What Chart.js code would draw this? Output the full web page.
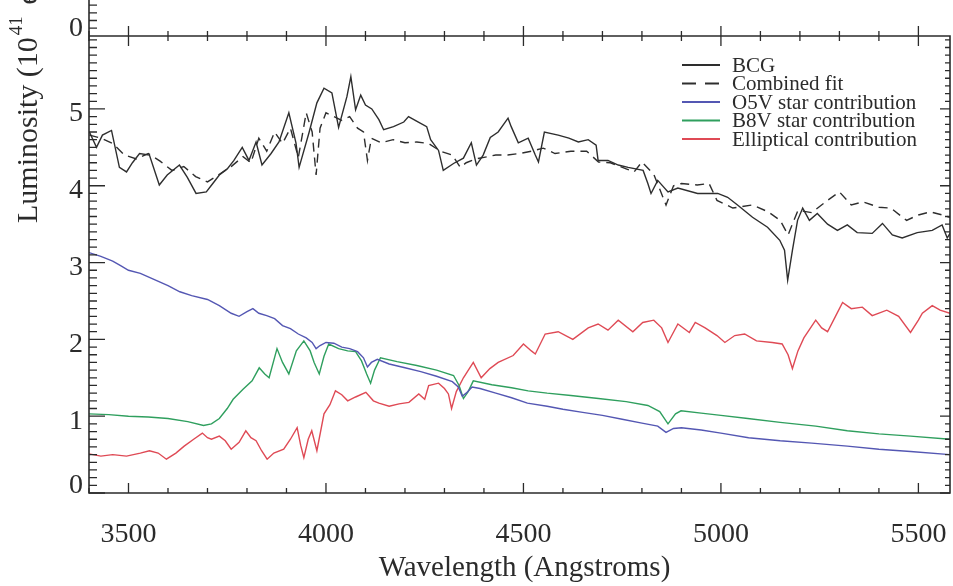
<!DOCTYPE html>
<html>
<head>
<meta charset="utf-8">
<script src="https://cdn.jsdelivr.net/npm/chart.js@4"></script>
<style>
  html, body { margin: 0; padding: 0; background: #fff; }
  #wrap { width: 953px; height: 586px; position: relative; }
</style>
</head>
<body>
<div id="wrap"><canvas id="spectrum"></canvas></div>
<script>
// values (wavelength in Angstroms, luminosity in 10^41 units)
const bcgWave = [3401,3419,3434,3457,3477,3495,3510,3528,3553,3578,3598,3629,3649,3671,3697,3712,3730,3750,3767,3788,3805,3823,3838,3861,3881,3906,3924,3932,3957,3977,3995,4015,4032,4053,4063,4075,4088,4100,4116,4134,4146,4171,4197,4209,4234,4255,4265,4285,4297,4323,4348,4368,4381,4398,4416,4436,4461,4469,4487,4512,4530,4538,4553,4588,4615,4639,4664,4684,4689,4714,4740,4765,4803,4815,4823,4840,4866,4891,4941,4992,5017,5042,5080,5118,5149,5161,5169,5181,5194,5207,5224,5244,5270,5295,5320,5345,5383,5409,5434,5459,5497,5535,5560,5573,5580];
const bcgLum  = [4.70,4.50,4.66,4.72,4.24,4.18,4.30,4.42,4.40,4.01,4.14,4.27,4.11,3.90,3.92,4.02,4.14,4.22,4.33,4.50,4.33,4.57,4.27,4.42,4.57,4.95,4.56,4.24,4.69,5.08,5.27,5.21,4.76,5.16,5.42,4.99,5.18,5.05,5.00,4.86,4.73,4.77,4.83,4.90,4.83,4.77,4.60,4.46,4.20,4.29,4.36,4.56,4.27,4.40,4.63,4.70,4.88,4.77,4.56,4.62,4.40,4.31,4.70,4.66,4.62,4.57,4.60,4.53,4.33,4.33,4.27,4.24,4.20,4.03,3.90,4.07,3.92,3.97,3.90,3.90,3.85,3.75,3.59,3.46,3.29,3.16,2.77,3.16,3.55,3.71,3.55,3.64,3.50,3.42,3.49,3.39,3.38,3.51,3.36,3.32,3.39,3.42,3.49,3.32,3.38];

const fitWave = [3401,3430,3460,3490,3520,3550,3580,3610,3640,3670,3700,3730,3760,3790,3810,3830,3850,3870,3890,3910,3930,3950,3965,3975,3985,4000,4020,4040,4060,4080,4095,4105,4115,4140,4170,4200,4230,4260,4290,4320,4340,4355,4380,4400,4430,4460,4490,4520,4550,4580,4620,4660,4690,4720,4760,4780,4800,4830,4861,4880,4900,4940,4970,4990,5030,5080,5120,5150,5170,5195,5230,5270,5300,5330,5360,5400,5430,5470,5500,5530,5560,5580];
const fitLum  = [4.66,4.62,4.55,4.40,4.35,4.42,4.32,4.20,4.25,4.12,4.05,4.15,4.25,4.38,4.30,4.62,4.45,4.70,4.55,4.75,4.37,4.95,4.70,4.14,4.75,4.95,4.90,4.85,4.90,4.75,4.70,4.33,4.62,4.56,4.60,4.56,4.57,4.55,4.45,4.40,4.24,4.30,4.35,4.37,4.40,4.40,4.42,4.45,4.49,4.42,4.45,4.45,4.31,4.30,4.22,4.18,4.31,4.15,3.75,4.00,4.03,4.01,4.03,3.81,3.71,3.75,3.66,3.55,3.36,3.68,3.65,3.81,3.92,3.75,3.79,3.72,3.71,3.55,3.62,3.66,3.62,3.59];

const o5vWave = [3400,3430,3460,3480,3500,3530,3560,3600,3630,3660,3700,3730,3760,3780,3800,3815,3830,3850,3870,3890,3910,3930,3950,3965,3975,3985,4000,4020,4040,4060,4080,4095,4105,4115,4130,4160,4200,4240,4280,4320,4335,4345,4355,4370,4390,4430,4470,4510,4560,4600,4650,4700,4750,4800,4840,4861,4880,4900,4950,5000,5070,5150,5230,5320,5400,5480,5580];
const o5vLum  = [3.13,3.08,3.02,2.96,2.90,2.86,2.79,2.70,2.62,2.57,2.52,2.44,2.34,2.30,2.36,2.40,2.34,2.31,2.27,2.18,2.14,2.07,2.02,1.96,1.88,1.92,1.96,1.95,1.90,1.88,1.84,1.76,1.64,1.70,1.74,1.68,1.63,1.58,1.52,1.45,1.38,1.26,1.30,1.38,1.36,1.30,1.24,1.17,1.13,1.09,1.05,1.01,0.96,0.91,0.87,0.79,0.84,0.85,0.82,0.78,0.72,0.68,0.65,0.61,0.57,0.54,0.50];

const b8vWave = [3400,3450,3500,3550,3600,3650,3690,3710,3730,3750,3765,3790,3813,3831,3845,3856,3876,3890,3906,3925,3944,3960,3970,3983,3995,4007,4032,4055,4075,4090,4103,4113,4123,4138,4180,4230,4280,4323,4337,4348,4360,4373,4420,4470,4512,4560,4620,4690,4760,4815,4845,4866,4885,4899,4950,5000,5068,5150,5240,5320,5400,5480,5580];
const b8vLum  = [1.03,1.02,1.00,0.99,0.97,0.93,0.88,0.90,0.97,1.10,1.22,1.35,1.46,1.63,1.55,1.50,1.88,1.70,1.55,1.85,1.98,1.85,1.70,1.55,1.78,1.94,1.88,1.85,1.84,1.72,1.55,1.43,1.60,1.76,1.71,1.66,1.60,1.53,1.40,1.23,1.32,1.46,1.41,1.37,1.33,1.30,1.27,1.23,1.19,1.14,1.06,0.90,1.03,1.07,1.04,1.01,0.97,0.92,0.87,0.81,0.77,0.74,0.70];

const ellWave = [3400,3430,3460,3495,3530,3553,3575,3596,3620,3641,3665,3687,3700,3710,3730,3745,3760,3780,3797,3810,3823,3837,3851,3868,3893,3910,3927,3936,3944,3955,3964,3977,3995,4010,4024,4040,4055,4075,4101,4120,4134,4160,4185,4210,4235,4250,4260,4285,4300,4310,4318,4330,4348,4373,4393,4415,4436,4474,4500,4520,4530,4555,4588,4625,4664,4689,4714,4740,4777,4802,4830,4850,4866,4891,4920,4935,4960,4990,5010,5035,5060,5090,5130,5155,5170,5181,5195,5210,5240,5255,5270,5290,5308,5330,5358,5383,5420,5450,5480,5500,5510,5535,5555,5580];
const ellLum  = [0.51,0.48,0.50,0.48,0.52,0.55,0.52,0.44,0.52,0.61,0.70,0.78,0.72,0.70,0.74,0.68,0.57,0.66,0.81,0.72,0.68,0.55,0.44,0.52,0.57,0.70,0.85,0.62,0.46,0.70,0.81,0.55,1.03,1.15,1.33,1.28,1.20,1.25,1.31,1.20,1.17,1.13,1.16,1.18,1.29,1.22,1.40,1.43,1.36,1.29,1.10,1.32,1.50,1.70,1.50,1.62,1.70,1.79,1.94,1.85,1.81,2.07,2.10,2.00,2.15,2.20,2.12,2.25,2.10,2.22,2.25,2.15,1.96,2.20,2.09,2.22,2.15,2.05,1.96,2.05,2.07,1.98,1.96,1.94,1.80,1.62,1.85,2.02,2.25,2.15,2.10,2.30,2.48,2.40,2.42,2.31,2.38,2.30,2.09,2.25,2.34,2.44,2.38,2.34];

const seriesNames = ['BCG', 'Combined fit', 'O5V star contribution', 'B8V star contribution', 'Elliptical contribution'];
const xTickLabels = [3500, 4000, 4500, 5000, 5500];
const yTickLabels = [0, 1, 2, 3, 4, 5];

const serif = '"Liberation Serif", "Times New Roman", serif';
const ink = '#2b2b2b';

window.addEventListener('load', () => {
  drawSpectrum();
});

function pts(wave, lum){
  return wave.map((w, i) => ({ x: w, y: lum[i] }));
}

// IDL-like frame: inward ticks on all four sides, labels, titles, legend
const framePlugin = {
  id: 'frame',
  afterDraw(chart){
    const ctx = chart.ctx;
    const a = chart.chartArea;
    const xs = chart.scales.x;
    const ys = chart.scales.y;
    ctx.save();
    ctx.strokeStyle = ink;
    ctx.fillStyle = ink;
    ctx.lineWidth = 1.6;
    ctx.beginPath();
    ctx.rect(a.left, a.top, a.right - a.left, a.bottom - a.top);
    // left axis of the panel above continues to the top edge
    ctx.moveTo(a.left, a.top);
    ctx.lineTo(a.left, 0);
    ctx.stroke();

    ctx.lineWidth = 1.3;
    ctx.beginPath();
    for (let w = 3400; w <= 5580; w += 100){
      const px = xs.getPixelForValue(w);
      const major = w % 500 === 0;
      const len = major ? 10 : 5;
      ctx.moveTo(px, a.bottom); ctx.lineTo(px, a.bottom - len);
      ctx.moveTo(px, a.top - len); ctx.lineTo(px, a.top + len);
    }
    for (let k = 0; k <= 59; k++){
      const py = ys.getPixelForValue(k / 10);
      const major = k % 10 === 0;
      ctx.moveTo(a.left, py); ctx.lineTo(a.left + (major ? 16 : 8), py);
      ctx.moveTo(a.right, py); ctx.lineTo(a.right - (major ? 10 : 5), py);
    }
    // minor ticks of the panel above
    for (let k = 60; k <= 80; k++){
      const py = ys.getPixelForValue(k / 10) - 4;
      if (py < 0) break;
      ctx.moveTo(a.left, py); ctx.lineTo(a.left + 8, py);
    }
    ctx.stroke();

    ctx.font = '28px ' + serif;
    ctx.textAlign = 'center';
    ctx.textBaseline = 'alphabetic';
    xTickLabels.forEach(v => ctx.fillText(String(v), xs.getPixelForValue(v), 542));
    ctx.textAlign = 'right';
    ctx.textBaseline = 'middle';
    yTickLabels.forEach(v => {
      const py = Math.min(ys.getPixelForValue(v) + 5, a.bottom - 7);
      ctx.fillText(String(v), 83, py);
    });
    ctx.fillText('0', 83, 29);

    ctx.font = '29px ' + serif;
    ctx.textAlign = 'center';
    ctx.textBaseline = 'alphabetic';
    ctx.fillText('Wavelength (Angstroms)', (a.left + a.right) / 2 + 5, 576);

    // rotated y title, runs off the top of the crop
    ctx.save();
    ctx.translate(37, 223);
    ctx.rotate(-Math.PI / 2);
    ctx.textAlign = 'left';
    ctx.font = '30px ' + serif;
    const head = 'Luminosity (10';
    ctx.fillText(head, 0, 0);
    let off = ctx.measureText(head).width;
    ctx.font = '19px ' + serif;
    ctx.fillText('41', off + 2, -15);
    off += ctx.measureText('41').width;
    ctx.font = '30px ' + serif;
    ctx.fillText(' erg s', off + 6, 0);
    ctx.restore();

    // legend
    ctx.font = '21px ' + serif;
    ctx.textAlign = 'left';
    ctx.textBaseline = 'middle';
    chart.data.datasets.forEach((ds, i) => {
      const y = 65 + i * 18.5;
      ctx.strokeStyle = ds.borderColor;
      ctx.lineWidth = 1.8;
      ctx.setLineDash(ds.borderDash && ds.borderDash.length ? [14, 9] : []);
      ctx.beginPath();
      ctx.moveTo(682, y); ctx.lineTo(720, y);
      ctx.stroke();
      ctx.setLineDash([]);
      ctx.fillStyle = ink;
      ctx.fillText(ds.label, 732, y + 1);
    });
    ctx.restore();
  }
};

function drawSpectrum(){
  const ctx = document.getElementById('spectrum').getContext('2d');
  const line = (label, data, color, dash) => ({
    label: label,
    data: data,
    borderColor: color,
    borderWidth: 1.4,
    borderDash: dash || [],
    pointRadius: 0,
    tension: 0,
    fill: false
  });
  const myChart = new Chart(ctx, {
    type: 'line',
    data: {
      datasets: [
        line(seriesNames[0], pts(bcgWave, bcgLum), '#2e2e2e'),
        line(seriesNames[1], pts(fitWave, fitLum), '#2e2e2e', [9, 6]),
        line(seriesNames[2], pts(o5vWave, o5vLum), '#5457b3'),
        line(seriesNames[3], pts(b8vWave, b8vLum), '#2f9f5e'),
        line(seriesNames[4], pts(ellWave, ellLum), '#df4a55')
      ]
    },
    options: {
      responsive: true,
      maintainAspectRatio: false,
      animation: false,
      layout: { padding: { left: 89, right: 3, top: 36, bottom: 93 } },
      plugins: { legend: { display: false }, tooltip: { enabled: false } },
      scales: {
        x: { type: 'linear', min: 3400, max: 5580, display: false },
        y: { type: 'linear', min: 0, max: 5.95, display: false }
      }
    },
    plugins: [framePlugin]
  });
}
</script>
</body>
</html>
